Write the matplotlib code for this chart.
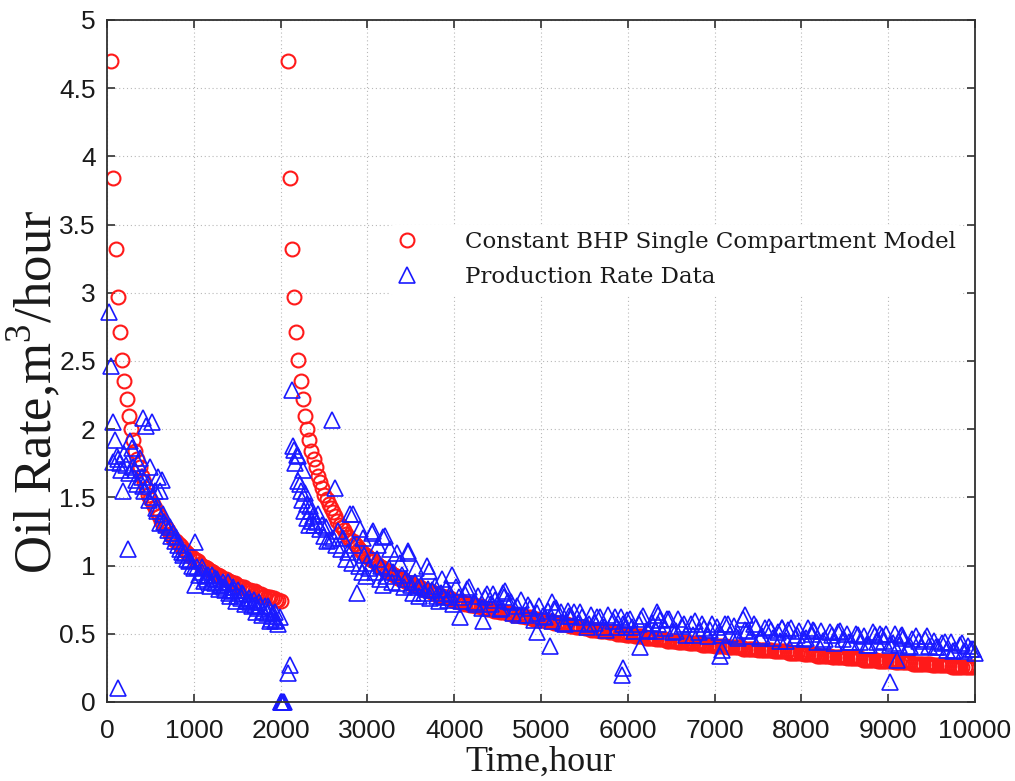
import matplotlib
matplotlib.use("Agg")
import matplotlib.pyplot as plt
from matplotlib.ticker import MultipleLocator, FormatStrFormatter

# ---- model (red circles), first flow period, hours / m3 per hour
model_t1 = [50, 75, 100, 125, 150, 175, 200, 225, 250, 275,
            300, 325, 350, 375, 400, 425, 450, 475, 500, 525,
            550, 575, 600, 625, 650, 675, 700, 725, 750, 775,
            800, 825, 850, 875, 900, 925, 950, 975, 1000, 1025,
            1050, 1075, 1100, 1125, 1150, 1175, 1200, 1225, 1250, 1275,
            1300, 1325, 1350, 1375, 1400, 1425, 1450, 1475, 1500, 1525,
            1550, 1575, 1600, 1625, 1650, 1675, 1700, 1725, 1750, 1775,
            1800, 1825, 1850, 1875, 1900, 1925, 1950, 1975, 2000]
model_q1 = [4.70, 3.84, 3.32, 2.97, 2.71, 2.51, 2.35, 2.22, 2.10, 2.00,
            1.92, 1.84, 1.78, 1.72, 1.66, 1.61, 1.57, 1.52, 1.49, 1.45,
            1.42, 1.39, 1.36, 1.33, 1.30, 1.28, 1.26, 1.23, 1.21, 1.19,
            1.18, 1.16, 1.14, 1.12, 1.11, 1.09, 1.08, 1.06, 1.05, 1.04,
            1.03, 1.01, 1.00, 0.99, 0.98, 0.97, 0.96, 0.95, 0.94, 0.93,
            0.92, 0.91, 0.90, 0.90, 0.89, 0.88, 0.87, 0.87, 0.86, 0.85,
            0.84, 0.84, 0.83, 0.82, 0.82, 0.81, 0.81, 0.80, 0.79, 0.79,
            0.78, 0.78, 0.77, 0.77, 0.76, 0.76, 0.75, 0.75, 0.74]

# ---- model, second flow period (restart after the shut-in)
model_t2 = [2080, 2105, 2130, 2155, 2180, 2205, 2230, 2255, 2280, 2305,
            2330, 2355, 2380, 2405, 2430, 2455, 2480, 2505, 2530, 2555,
            2580, 2605, 2630, 2655, 2680, 2705, 2730, 2755, 2780, 2805,
            2830, 2855, 2880, 2905, 2930, 2955, 2980, 3005, 3030, 3055,
            3080, 3105, 3130, 3155, 3180, 3205, 3230, 3255, 3280, 3305,
            3330, 3355, 3380, 3405, 3430, 3455, 3480, 3505, 3530, 3555,
            3580, 3605, 3630, 3655, 3680, 3705, 3730, 3755, 3780, 3805,
            3830, 3855, 3880, 3905, 3930, 3955, 3980,
            4005, 4030, 4055, 4080, 4105, 4130, 4155, 4180, 4205, 4230,
            4255, 4280, 4305, 4330, 4355, 4380, 4405, 4430, 4455, 4480,
            4505, 4530, 4555, 4580, 4605, 4630, 4655, 4680, 4705, 4730,
            4755, 4780, 4805, 4830, 4855, 4880, 4905, 4930, 4955, 4980,
            5005, 5030, 5055, 5080, 5105, 5130, 5155, 5180, 5205, 5230,
            5255, 5280, 5305, 5330, 5355, 5380, 5405, 5430, 5455, 5480,
            5505, 5530, 5555, 5580, 5605, 5630, 5655, 5680, 5705, 5730,
            5755, 5780, 5805, 5830, 5855, 5880, 5905, 5930, 5955, 5980,
            6005, 6030, 6055, 6080, 6105, 6130, 6155, 6180, 6205, 6230,
            6255, 6280, 6305, 6330, 6355, 6380, 6405, 6430, 6455, 6480,
            6505, 6530, 6555, 6580, 6605, 6630, 6655, 6680, 6705, 6730,
            6755, 6780, 6805, 6830, 6855, 6880, 6905, 6930, 6955, 6980,
            7005, 7030, 7055, 7080, 7105, 7130, 7155, 7180, 7205, 7230,
            7255, 7280, 7305, 7330, 7355, 7380, 7405, 7430, 7455, 7480,
            7505, 7530, 7555, 7580, 7605, 7630, 7655, 7680, 7705, 7730,
            7755, 7780, 7805, 7830, 7855, 7880, 7905, 7930, 7955, 7980,
            8005, 8030, 8055, 8080, 8105, 8130, 8155, 8180, 8205, 8230,
            8255, 8280, 8305, 8330, 8355, 8380, 8405, 8430, 8455, 8480,
            8505, 8530, 8555, 8580, 8605, 8630, 8655, 8680, 8705, 8730,
            8755, 8780, 8805, 8830, 8855, 8880, 8905, 8930, 8955, 8980,
            9005, 9030, 9055, 9080, 9105, 9130, 9155, 9180, 9205, 9230,
            9255, 9280, 9305, 9330, 9355, 9380, 9405, 9430, 9455, 9480,
            9505, 9530, 9555, 9580, 9605, 9630, 9655, 9680, 9705, 9730,
            9755, 9780, 9805, 9830, 9855, 9880, 9905, 9930, 9955, 9980]
# early part of the second period repeats the first-period response
model_q2 = model_q1[:77] + [
    0.74, 0.74, 0.73, 0.73, 0.73, 0.72, 0.72, 0.71, 0.71, 0.71,
    0.70, 0.70, 0.70, 0.69, 0.69, 0.68, 0.68, 0.68, 0.67, 0.67,
    0.67, 0.66, 0.66, 0.66, 0.65, 0.65, 0.65, 0.64, 0.64, 0.64,
    0.63, 0.63, 0.63, 0.62, 0.62, 0.62, 0.61, 0.61, 0.61, 0.60,
    0.60, 0.60, 0.59, 0.59, 0.59, 0.59, 0.58, 0.58, 0.58, 0.57,
    0.57, 0.57, 0.57, 0.56, 0.56, 0.56, 0.55, 0.55, 0.55, 0.55,
    0.54, 0.54, 0.54, 0.53, 0.53, 0.53, 0.53, 0.52, 0.52, 0.52,
    0.52, 0.51, 0.51, 0.51, 0.51, 0.50, 0.50, 0.50, 0.50, 0.49,
    0.49, 0.49, 0.49, 0.48, 0.48, 0.48, 0.48, 0.48, 0.47, 0.47,
    0.47, 0.47, 0.47, 0.46, 0.46, 0.46, 0.46, 0.46, 0.45, 0.45,
    0.45, 0.45, 0.45, 0.44, 0.44, 0.44, 0.44, 0.44, 0.43, 0.43,
    0.43, 0.43, 0.43, 0.43, 0.42, 0.42, 0.42, 0.42, 0.42, 0.42,
    0.41, 0.41, 0.41, 0.41, 0.41, 0.41, 0.40, 0.40, 0.40, 0.40,
    0.40, 0.40, 0.40, 0.39, 0.39, 0.39, 0.39, 0.39, 0.39, 0.39,
    0.38, 0.38, 0.38, 0.38, 0.38, 0.38, 0.38, 0.37, 0.37, 0.37,
    0.37, 0.37, 0.37, 0.37, 0.36, 0.36, 0.36, 0.36, 0.36, 0.36,
    0.36, 0.35, 0.35, 0.35, 0.35, 0.35, 0.35, 0.34, 0.34, 0.34,
    0.34, 0.34, 0.34, 0.34, 0.33, 0.33, 0.33, 0.33, 0.33, 0.33,
    0.33, 0.32, 0.32, 0.32, 0.32, 0.32, 0.32, 0.32, 0.31, 0.31,
    0.31, 0.31, 0.31, 0.31, 0.31, 0.30, 0.30, 0.30, 0.30, 0.30,
    0.30, 0.30, 0.30, 0.29, 0.29, 0.29, 0.29, 0.29, 0.29, 0.29,
    0.29, 0.28, 0.28, 0.28, 0.28, 0.28, 0.28, 0.28, 0.28, 0.28,
    0.27, 0.27, 0.27, 0.27, 0.27, 0.27, 0.27, 0.27, 0.27, 0.26,
    0.26, 0.26, 0.26, 0.26, 0.26, 0.26, 0.26, 0.26, 0.26, 0.26]

# ---- production rate data (blue triangles)
# first flow period, early transient
data_t1 = [25, 45, 70, 75, 90, 110, 125, 130, 150, 160, 185, 200, 220, 240, 250,
           265, 285, 300, 320, 340, 350, 360, 380, 400, 415, 415, 430, 455, 470, 480,
           495, 515, 530, 550, 560, 580, 590, 610, 610, 630, 640, 660, 680, 700, 725,
           740, 760, 780, 800, 820, 840, 860, 880, 900, 920, 940, 960, 980, 1000, 1015,
           1015]
data_q1 = [2.86, 2.46, 2.05, 1.76, 1.92, 1.80, 0.10, 1.78, 1.75, 1.70, 1.55, 1.82, 1.74, 1.12, 1.68,
           1.91, 1.86, 1.72, 1.70, 1.63, 1.60, 1.75, 1.79, 1.65, 2.08, 1.58, 1.55, 2.02, 1.60, 1.48,
           1.72, 2.05, 1.50, 1.55, 1.42, 1.40, 1.65, 1.55, 1.31, 1.63, 1.38, 1.32, 1.30, 1.26, 1.28,
           1.22, 1.24, 1.18, 1.21, 1.15, 1.12, 1.10, 1.08, 1.09, 1.05, 1.03, 1.04, 1.00, 0.98, 1.17,
           0.86]
# first flow period, late
data_t2 = [1040, 1065, 1090, 1115, 1140, 1165, 1190, 1215, 1240, 1265,
           1290, 1315, 1340, 1365, 1390, 1415, 1440, 1465, 1490, 1515,
           1540, 1565, 1590, 1615, 1640, 1665, 1690, 1715, 1740, 1765,
           1790, 1815, 1840, 1865, 1890, 1915, 1940, 1965, 1990,
           1100, 1150, 1200, 1250, 1300, 1350, 1400, 1450, 1500, 1550,
           1600, 1650, 1700, 1750, 1800, 1850, 1900, 1950, 1880, 1930]
data_q2 = [0.99, 0.93, 0.99, 0.89, 0.92, 0.93, 0.85, 0.93, 0.87, 0.90,
           0.83, 0.86, 0.88, 0.82, 0.88, 0.78, 0.81, 0.82, 0.74, 0.82,
           0.76, 0.79, 0.72, 0.75, 0.76, 0.70, 0.75, 0.66, 0.69, 0.70,
           0.64, 0.70, 0.65, 0.68, 0.61, 0.65, 0.66, 0.57, 0.62,
           0.95, 0.90, 0.88, 0.91, 0.86, 0.84, 0.80, 0.84, 0.78, 0.80,
           0.74, 0.73, 0.71, 0.73, 0.67, 0.70, 0.63, 0.60, 0.59, 0.59]
# shut-in
data_t3 = [2000, 2010, 2020, 2030, 2040, 2080, 2108]
data_q3 = [0.0, 0.0, 0.0, 0.0, 0.0, 0.21, 0.27]
# second flow period, early
data_t4 = [2127, 2147, 2160, 2170, 2185, 2200, 2205, 2224, 2240, 2250,
           2262, 2270, 2281, 2300, 2310, 2330, 2339, 2350, 2360, 2377,
           2390, 2415, 2430, 2450, 2480, 2500, 2520, 2540, 2569, 2589,
           2600, 2627, 2640, 2660, 2700, 2720, 2750, 2780, 2800, 2820,
           2838, 2850, 2877, 2900, 2915, 2940, 2950, 2960, 2980, 3000,
           3020, 3049, 3068, 3090, 3110, 3120, 3140, 3160, 3180, 3180,
           3203, 3220, 3250, 3260, 3280, 3300, 3337, 3360, 3380, 3400,
           3420, 3440, 3468, 3471, 3500, 3520, 3550, 3560, 3580, 3600,
           3620, 3650, 3683, 3700, 3710, 3720, 3750, 3780, 3800, 3830,
           3850, 3860, 3880, 3900, 3930, 3950, 3971, 3990]
data_q4 = [2.29, 1.88, 1.85, 1.75, 1.81, 1.62, 1.80, 1.60, 1.55, 1.48,
           1.70, 1.40, 1.53, 1.45, 1.35, 1.30, 1.44, 1.40, 1.33, 1.36,
           1.30, 1.32, 1.38, 1.27, 1.30, 1.22, 1.28, 1.18, 1.19, 2.07,
           1.20, 1.57, 1.15, 1.25, 1.12, 1.20, 1.05, 1.10, 1.38, 1.02,
           1.38, 1.15, 0.80, 1.00, 1.27, 0.95, 1.20, 1.08, 0.92, 1.02,
           0.98, 1.24, 1.25, 0.95, 1.05, 1.15, 0.90, 1.00, 1.21, 0.86,
           1.22, 0.92, 0.98, 1.12, 0.88, 0.95, 1.09, 0.87, 1.02, 0.93,
           0.84, 0.90, 1.09, 1.11, 0.86, 0.80, 0.88, 0.98, 0.84, 0.78,
           0.86, 0.80, 1.00, 0.83, 0.96, 0.76, 0.82, 0.85, 0.78, 0.74,
           0.80, 0.90, 0.77, 0.83, 0.75, 0.79, 0.93, 0.72]
# second flow period, late (every 50 h)
data_t5 = [4025, 4075, 4125, 4175, 4225, 4275, 4325, 4375, 4425, 4475,
           4525, 4575, 4625, 4675, 4725, 4775, 4825, 4875, 4925, 4975,
           5025, 5075, 5125, 5175, 5225, 5275, 5325, 5375, 5425, 5475,
           5525, 5575, 5625, 5675, 5725, 5775, 5825, 5875, 5925, 5975,
           6025, 6075, 6125, 6175, 6225, 6275, 6325, 6375, 6425, 6475,
           6525, 6575, 6625, 6675, 6725, 6775, 6825, 6875, 6925, 6975,
           7025, 7075, 7125, 7175, 7225, 7275, 7325, 7375, 7425, 7475,
           7525, 7575, 7625, 7675, 7725, 7775, 7825, 7875, 7925, 7975,
           8025, 8075, 8125, 8175, 8225, 8275, 8325, 8375, 8425, 8475,
           8525, 8575, 8625, 8675, 8725, 8775, 8825, 8875, 8925, 8975,
           9025, 9075, 9125, 9175, 9225, 9275, 9325, 9375, 9425, 9475,
           9525, 9575, 9625, 9675, 9725, 9775, 9825, 9875, 9925, 9975]
data_q5 = [0.84, 0.74, 0.79, 0.84, 0.73, 0.78, 0.69, 0.79, 0.72, 0.75,
           0.68, 0.77, 0.74, 0.65, 0.70, 0.75, 0.64, 0.69, 0.60, 0.70,
           0.63, 0.67, 0.59, 0.69, 0.66, 0.57, 0.63, 0.66, 0.58, 0.62,
           0.55, 0.64, 0.58, 0.62, 0.55, 0.64, 0.59, 0.55, 0.62, 0.55,
           0.61, 0.52, 0.57, 0.63, 0.53, 0.58, 0.52, 0.60, 0.54, 0.61,
           0.51, 0.61, 0.56, 0.49, 0.57, 0.59, 0.51, 0.54, 0.48, 0.57,
           0.55, 0.49, 0.57, 0.50, 0.56, 0.47, 0.61, 0.52, 0.48, 0.55,
           0.47, 0.54, 0.55, 0.47, 0.51, 0.54, 0.45, 0.54, 0.47, 0.52,
           0.46, 0.54, 0.50, 0.44, 0.52, 0.46, 0.51, 0.43, 0.51, 0.46,
           0.50, 0.44, 0.50, 0.44, 0.48, 0.42, 0.51, 0.44, 0.48, 0.50,
           0.42, 0.50, 0.42, 0.47, 0.40, 0.46, 0.48, 0.40, 0.46, 0.41,
           0.45, 0.40, 0.43, 0.38, 0.44, 0.38, 0.42, 0.37, 0.41, 0.39]
# second flow period, late (in between)
data_t6 = [4050, 4150, 4250, 4350, 4450, 4550, 4650, 4750, 4850, 4950,
           5050, 5150, 5250, 5350, 5450, 5550, 5650, 5750, 5850, 5950,
           6050, 6150, 6250, 6350, 6450, 6550, 6650, 6750, 6850, 6950,
           7050, 7150, 7250, 7350, 7450, 7550, 7650, 7750, 7850, 7950,
           8050, 8150, 8250, 8350, 8450, 8550, 8650, 8750, 8850, 8950,
           9050, 9150, 9250, 9350, 9450, 9550, 9650, 9750, 9850, 9950]
data_q6 = [0.77, 0.83, 0.72, 0.77, 0.79, 0.69, 0.73, 0.64, 0.71, 0.65,
           0.62, 0.68, 0.58, 0.63, 0.66, 0.57, 0.62, 0.53, 0.62, 0.57,
           0.55, 0.61, 0.52, 0.57, 0.61, 0.52, 0.57, 0.49, 0.57, 0.53,
           0.51, 0.57, 0.48, 0.53, 0.57, 0.48, 0.53, 0.45, 0.53, 0.49,
           0.47, 0.52, 0.45, 0.49, 0.52, 0.44, 0.49, 0.42, 0.49, 0.45,
           0.43, 0.48, 0.41, 0.45, 0.48, 0.40, 0.44, 0.37, 0.43, 0.39]
# scattered points off the main trend
data_t7 = [4067, 4332, 4565, 4585, 4950, 5104, 5123, 5311, 5929, 5948, 5986, 6141,
           6333, 6350, 7062, 7082, 7350, 7773, 8134, 8906, 9021, 9098, 9155, 9995]
data_q7 = [0.62, 0.59, 0.80, 0.81, 0.51, 0.41, 0.73, 0.67, 0.20, 0.25, 0.60, 0.40,
           0.66, 0.64, 0.34, 0.38, 0.64, 0.54, 0.53, 0.50, 0.15, 0.31, 0.49, 0.36]

model_t = model_t1 + model_t2
model_q = model_q1 + model_q2
data_t = data_t1 + data_t2 + data_t3 + data_t4 + data_t5 + data_t6 + data_t7
data_q = data_q1 + data_q2 + data_q3 + data_q4 + data_q5 + data_q6 + data_q7

plt.rcParams['font.family'] = ['Liberation Sans', 'DejaVu Sans']
plt.rcParams['mathtext.fontset'] = 'custom'
plt.rcParams['mathtext.rm'] = 'Liberation Serif'

fig = plt.figure(figsize=(10.15, 7.81), dpi=100)
ax = fig.add_axes([0.1054, 0.1012, 0.8552, 0.8732])

ax.plot(model_t, model_q, linestyle='none', marker='o', markersize=10,
        markerfacecolor='none', markeredgecolor='#ff1a1a', markeredgewidth=1.5,
        label='Constant BHP Single Compartment Model')
ax.plot(data_t, data_q, linestyle='none', marker='^', markersize=11.5,
        markerfacecolor='none', markeredgecolor='#1a1aff', markeredgewidth=1.2,
        clip_on=False, label='Production Rate Data')

ax.set_xlim(0, 10000)
ax.set_ylim(0, 5)
ax.xaxis.set_major_locator(MultipleLocator(1000))
ax.yaxis.set_major_locator(MultipleLocator(0.5))
ax.yaxis.set_major_formatter(FormatStrFormatter('%g'))
ax.grid(True, linestyle=(0, (1, 2.5)), color='#b8b8b8', linewidth=0.8)
ax.set_axisbelow(True)
ax.tick_params(direction='in', top=True, right=True, length=6, width=1.3,
               color='#404040', labelsize=19, labelcolor='#1a1a1a')
ax.tick_params(axis='x', pad=12)
ax.tick_params(axis='y', pad=8)
for sp in ax.spines.values():
    sp.set_linewidth(1.3)
    sp.set_color('#303030')

ax.set_xlabel('Time,hour', fontfamily='Liberation Serif', fontsize=26,
              color='#1a1a1a', labelpad=2)
ax.set_ylabel('Oil Rate,m$^{3}$/hour', fontfamily='Liberation Serif', fontsize=38,
              color='#1a1a1a')
ax.yaxis.set_label_coords(-0.051, 0.455)

leg = ax.legend(loc='upper left', bbox_to_anchor=(0.325, 0.70), frameon=True,
                prop={'family': 'DejaVu Serif', 'size': 16.5},
                handlelength=1.0, handletextpad=2.0, labelspacing=0.55,
                borderpad=0.3, borderaxespad=0)
leg.get_frame().set_edgecolor('none')
leg.get_frame().set_facecolor('white')
leg.get_frame().set_alpha(1)
for t in leg.get_texts():
    t.set_color('#1a1a1a')

fig.savefig('out.png', dpi=100)
